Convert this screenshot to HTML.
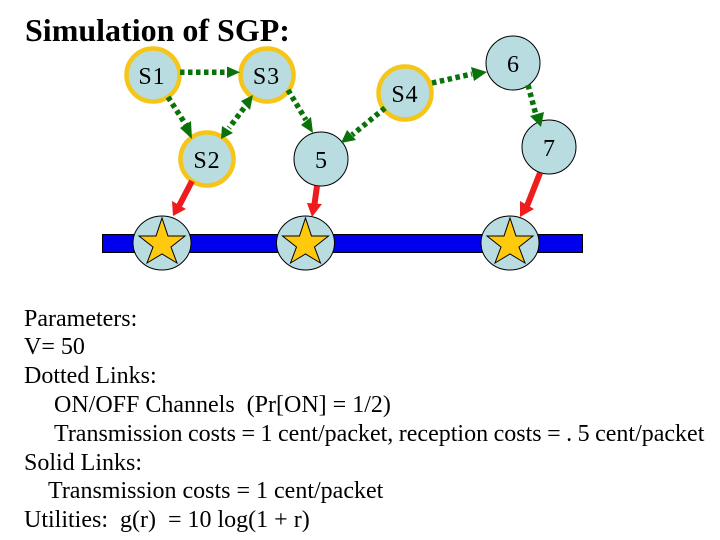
<!DOCTYPE html>
<html><head><meta charset="utf-8"><style>
html,body{margin:0;padding:0;background:#fff}
svg{display:block}
text{font-family:"Liberation Serif",serif;fill:#000;white-space:pre}
.b{font-size:24px}
.n{font-size:24px;text-anchor:middle}
</style></head><body>
<svg width="720" height="540" viewBox="0 0 720 540" xmlns="http://www.w3.org/2000/svg">
<text x="25" y="41" font-size="32" font-weight="bold">Simulation of SGP:</text>
<rect x="102.500" y="234.500" width="480" height="18" fill="#0000ee" stroke="#000" stroke-width="1"/>
<g fill="#b8dce0" stroke="#000">
<ellipse cx="162" cy="243" rx="29" ry="27"/>
<ellipse cx="305.500" cy="243" rx="29" ry="27"/>
<ellipse cx="510" cy="243" rx="29" ry="27"/>
</g>
<g fill="#ffc90e" stroke="#000" stroke-width="1">
<polygon points="162,218 168,236 185,236 171,247 177,263 162,254 147,263 153,247 139,236 156,236"/>
<polygon points="305.500,218 311.500,236 328.500,236 314.500,247 320.500,263 305.500,254 290.500,263 296.500,247 282.500,236 299.500,236"/>
<polygon points="510,218 516,236 533,236 519,247 525,263 510,254 495,263 501,247 487,236 504,236"/>
</g>
<g fill="#b8dce0" stroke="#f5c518" stroke-width="4.500">
<circle cx="153" cy="75" r="26.500"/>
<circle cx="267" cy="75" r="26.500"/>
<circle cx="207" cy="159" r="26.500"/>
<circle cx="405" cy="93" r="26.500"/>
</g>
<g fill="#b8dce0" stroke="#000" stroke-width="1">
<circle cx="321" cy="159" r="27"/>
<circle cx="513" cy="63" r="27"/>
<circle cx="549" cy="147" r="27"/>
</g>
<text class="n" x="152" y="84" letter-spacing="1">S1</text>
<text class="n" x="266.500" y="84" letter-spacing="1">S3</text>
<text class="n" x="207" y="168" letter-spacing="1">S2</text>
<text class="n" x="405" y="102" letter-spacing="1">S4</text>
<text class="n" x="321" y="168">5</text>
<text class="n" x="513" y="72">6</text>
<text class="n" x="549" y="156">7</text>
<g stroke="#0b720b" stroke-width="5.500" stroke-dasharray="4.500 3.500" fill="none">
<line x1="180" y1="72.300" x2="228" y2="72.300"/>
<line x1="168" y1="97" x2="186" y2="125"/>
<line x1="244" y1="108" x2="229" y2="128"/>
<line x1="288" y1="90" x2="306" y2="120"/>
<line x1="385" y1="108" x2="352" y2="135"/>
<line x1="432" y1="83" x2="472" y2="74"/>
<line x1="528" y1="85" x2="536" y2="115"/>
</g>
<g fill="#0b720b">
<polygon points="240,72.300 227,66.500 227,78"/>
<polygon points="192,139 180,128 191,121"/>
<polygon points="221,139 222,126 233,133"/>
<polygon points="253,95 241,101 250,110"/>
<polygon points="313,133 301,125 311,117"/>
<polygon points="341,143 347,130 356,140"/>
<polygon points="487,72 471,67 474,81"/>
<polygon points="541,127 530,116 544,112"/>
</g>
<g stroke="#ee1c1c" stroke-width="6" fill="none">
<line x1="192" y1="181" x2="179" y2="206"/>
<line x1="317" y1="186" x2="314.500" y2="204"/>
<line x1="540" y1="173" x2="527" y2="206"/>
</g>
<g fill="#ee1c1c">
<polygon points="173,216 172,201 186,209"/>
<polygon points="312,217 307,203 322,204"/>
<polygon points="520,217 520,201 534,209"/>
</g>
<text class="b" x="24" y="326">Parameters:</text>
<text class="b" x="24" y="354">V= 50</text>
<text class="b" x="24" y="383">Dotted Links:</text>
<text class="b" x="54" y="412">ON/OFF Channels  (Pr[ON] = 1/2)</text>
<text class="b" x="54" y="441" word-spacing="-0.500">Transmission costs = 1 cent/packet, reception costs = . 5 cent/packet</text>
<text class="b" x="24" y="470">Solid Links:</text>
<text class="b" x="48" y="498">Transmission costs = 1 cent/packet</text>
<text class="b" x="24" y="527">Utilities:  g(r)  = 10 log(1 + r)</text>
</svg>
</body></html>
